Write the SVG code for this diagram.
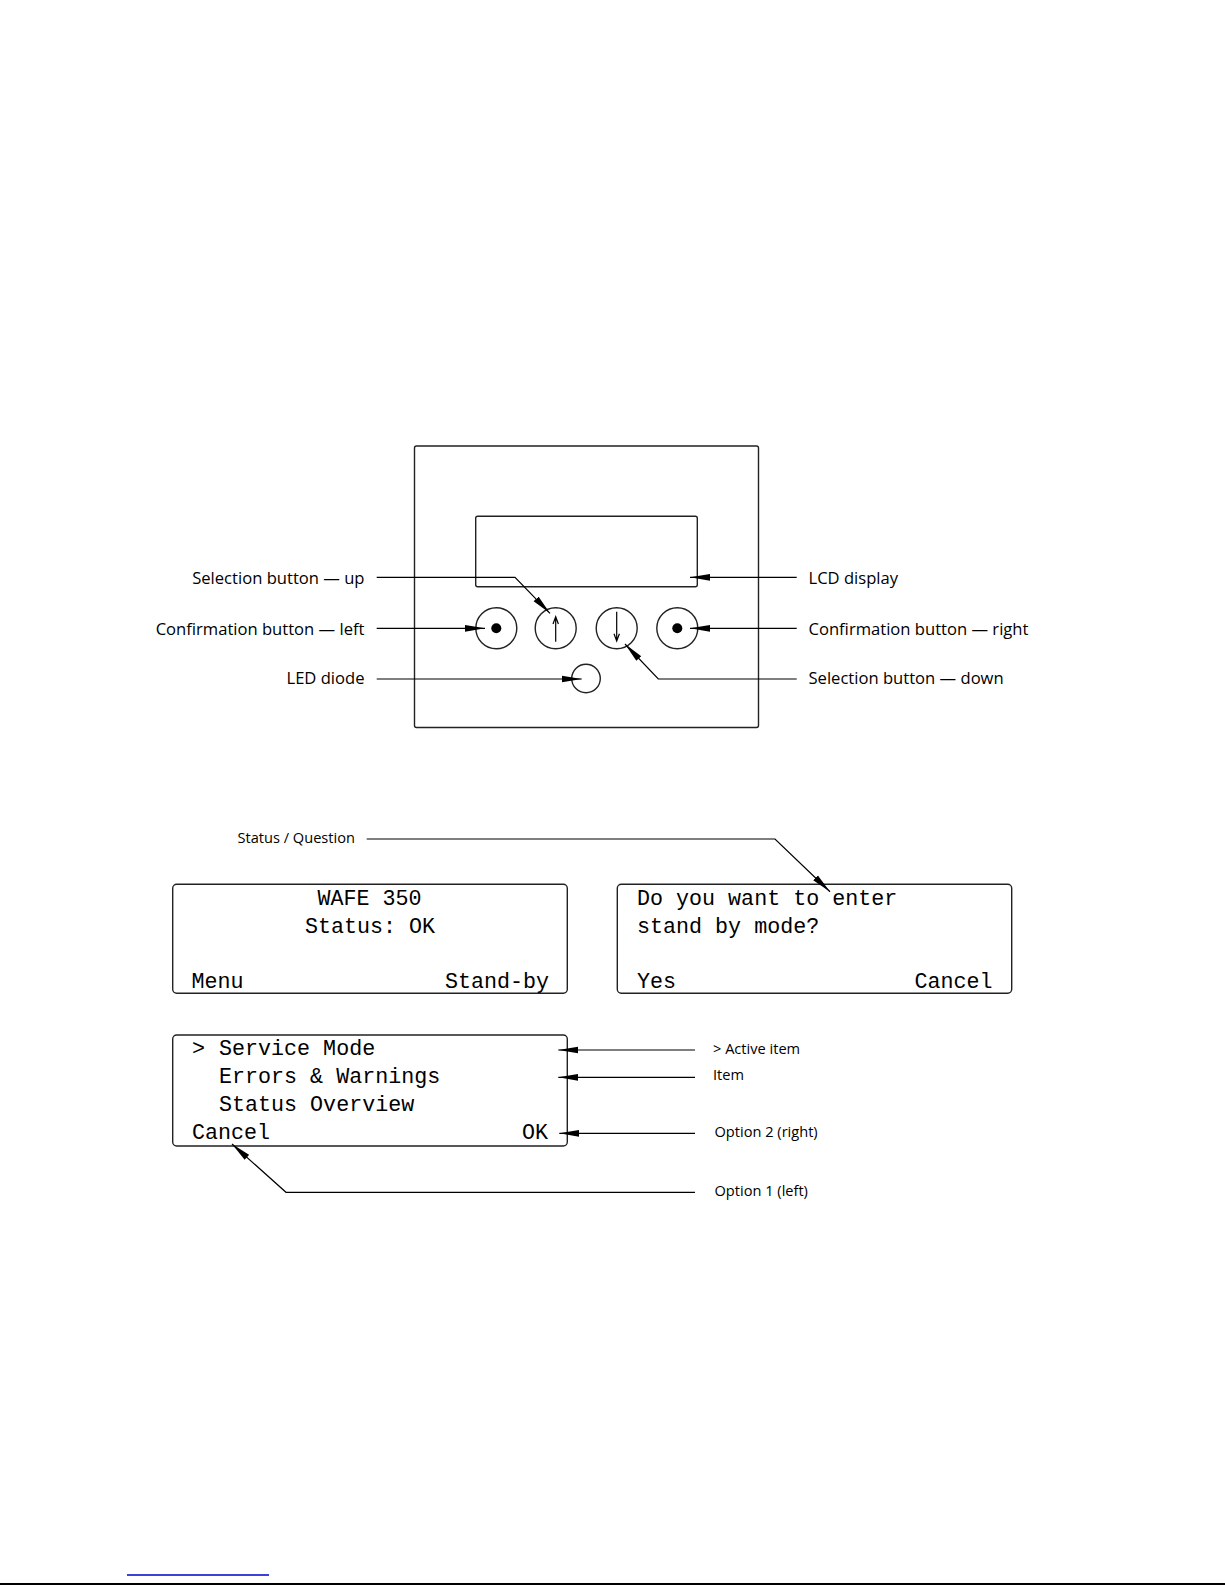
<svg xmlns="http://www.w3.org/2000/svg" width="1225" height="1585" viewBox="0 0 1225 1585">
<defs>
<style>
.lbl{font-family:"Open Sans","Noto Sans",sans-serif;font-size:16.6px;fill:#000}
.sm{font-family:"Open Sans","Noto Sans",sans-serif;font-size:14.6px;fill:#000}
.mono{font-family:"Liberation Mono","DejaVu Sans Mono",monospace;font-size:21.7px;fill:#000}
.box{fill:none;stroke:#222;stroke-width:1.4}
.ld{fill:none;stroke:#000;stroke-width:1.2}
</style>
<marker id="ah" markerUnits="userSpaceOnUse" markerWidth="22" markerHeight="9" viewBox="0 -4.5 22 9" refX="20" refY="0" orient="auto">
<path d="M0,-3.4 L20,0 L0,3.4 z" fill="#000"/>
</marker>
</defs>
<rect width="1225" height="1585" fill="#fff"/>

<g id="panel">
<rect class="box" x="414.5" y="446" width="344" height="281.5" rx="2"/>
</g>
<g id="lcd">
<rect class="box" x="475.7" y="516.3" width="221.6" height="70.4" rx="2"/>
</g>
<g id="btn-left">
<circle class="box" cx="496.3" cy="628.3" r="20.5"/>
<circle cx="496.3" cy="628.3" r="5" fill="#000"/>
</g>
<g id="btn-up">
<circle class="box" cx="555.7" cy="628.3" r="20.5"/>
<path class="ld" d="M555.7,641.7 V616.7 M553,624 L555.7,616.7 L558.4,624" stroke-width="1"/>
</g>
<g id="btn-down">
<circle class="box" cx="616.7" cy="628.3" r="20.5"/>
<path class="ld" d="M616.7,611.7 V641 M614,633.7 L616.7,641 L619.4,633.7" stroke-width="1"/>
</g>
<g id="btn-right">
<circle class="box" cx="677.3" cy="628.3" r="20.5"/>
<circle cx="677.3" cy="628.3" r="5" fill="#000"/>
</g>
<g id="led">
<circle class="box" cx="586" cy="678.5" r="14.3"/>
</g>

<g id="disp-status">
<rect class="box" x="172.7" y="884.3" width="394.6" height="109" rx="4"/>
<text class="mono" x="369.5" y="904.5" text-anchor="middle">WAFE 350</text>
<text class="mono" x="370" y="932.8" text-anchor="middle">Status: OK</text>
<text class="mono" x="191.5" y="988">Menu</text>
<text class="mono" x="549" y="988" text-anchor="end">Stand-by</text>
</g>
<g id="disp-question">
<rect class="box" x="617.3" y="884.3" width="394.4" height="109" rx="4"/>
<text class="mono" x="637" y="904.5">Do you want to enter</text>
<text class="mono" x="637" y="932.8">stand by mode?</text>
<text class="mono" x="637" y="988">Yes</text>
<text class="mono" x="992.5" y="988" text-anchor="end">Cancel</text>
</g>
<g id="disp-menu">
<rect class="box" x="172.7" y="1035" width="394.6" height="111" rx="4"/>
<text class="mono" x="192" y="1054.8">&gt;</text>
<text class="mono" x="219" y="1054.8">Service Mode</text>
<text class="mono" x="219" y="1083">Errors &amp; Warnings</text>
<text class="mono" x="219" y="1110.8">Status Overview</text>
<text class="mono" x="192" y="1138.8">Cancel</text>
<text class="mono" x="548" y="1138.8" text-anchor="end">OK</text>
</g>

<g id="labels">
<text class="lbl" x="364.5" y="583.5" text-anchor="end">Selection button — up</text>
<text class="lbl" x="364.5" y="634.5" text-anchor="end">Confirmation button — left</text>
<text class="lbl" x="364.5" y="683.5" text-anchor="end">LED diode</text>
<text class="lbl" x="808.5" y="584">LCD display</text>
<text class="lbl" x="808.5" y="634.5">Confirmation button — right</text>
<text class="lbl" x="808.5" y="683.5">Selection button — down</text>
<text class="sm" x="237.5" y="843">Status / Question</text>
<text class="sm" x="713" y="1054">&gt; Active item</text>
<text class="sm" x="713" y="1080">Item</text>
<text class="sm" x="714.5" y="1136.7">Option 2 (right)</text>
<text class="sm" x="714.5" y="1196">Option 1 (left)</text>
</g>

<g id="connectors">
<path class="ld" d="M376.7,577.3 H515 L550,613.3" marker-end="url(#ah)"/>
<path class="ld" d="M376.7,628.3 H485" marker-end="url(#ah)"/>
<path class="ld" d="M376.7,679 H581.7" marker-end="url(#ah)"/>
<path class="ld" d="M796.7,577.3 H690" marker-end="url(#ah)"/>
<path class="ld" d="M796.7,628.3 H690" marker-end="url(#ah)"/>
<path class="ld" d="M796.7,679 H658.3 L625,644" marker-end="url(#ah)"/>
<path class="ld" d="M366.7,839 H775 L830,891.7" marker-end="url(#ah)"/>
<path class="ld" d="M695,1050 H558.3" marker-end="url(#ah)"/>
<path class="ld" d="M695,1077.3 H558.3" marker-end="url(#ah)"/>
<path class="ld" d="M695,1133.3 H559.3" marker-end="url(#ah)"/>
<path class="ld" d="M695,1192.3 H286 L232,1144" marker-end="url(#ah)"/>
</g>

<g id="page-rules">
<line x1="127" y1="1575" x2="269" y2="1575" stroke="#0000cc" stroke-width="1.3"/>
<line x1="0" y1="1584" x2="1225" y2="1584" stroke="#000" stroke-width="2"/>
</g>
</svg>
